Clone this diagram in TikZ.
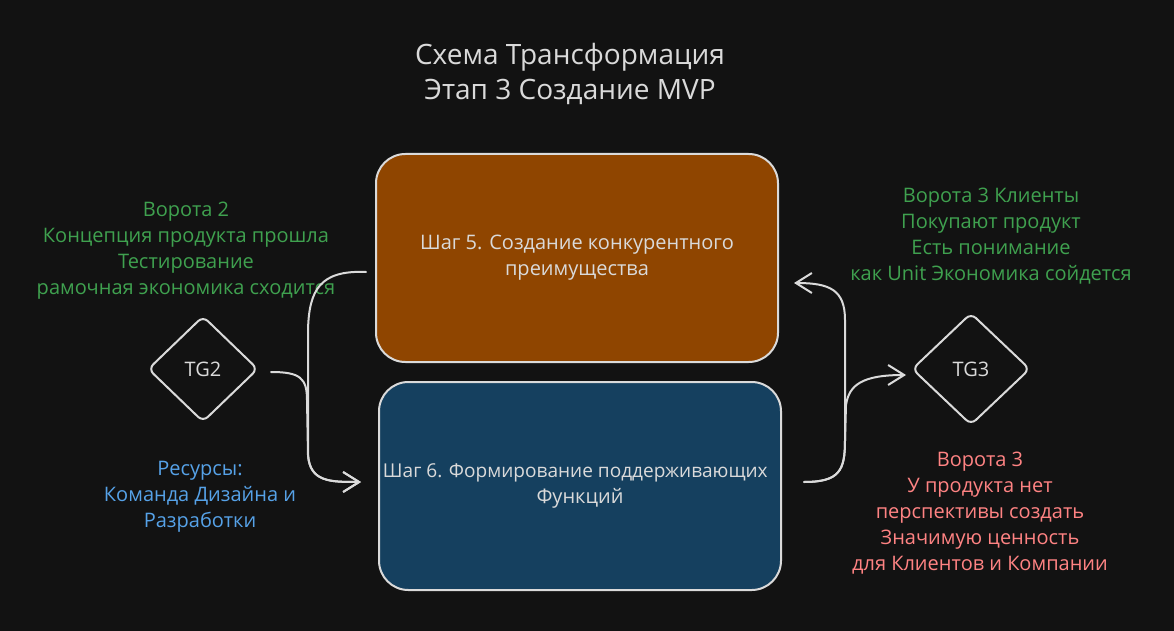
\documentclass[tikz,border=0pt]{standalone}
\usepackage{fontspec}
\setmainfont{Open Sans}
\usepackage{xcolor}
\usetikzlibrary{shapes.geometric, arrows.meta, calc}

\definecolor{bgcol}{HTML}{121212}
\definecolor{strokecol}{HTML}{DADADA}
\definecolor{gatecol}{HTML}{3FA14F}
\definecolor{failcol}{HTML}{FF8383}
\definecolor{rescol}{HTML}{56A2E8}
\definecolor{stepfive}{HTML}{8F4500}
\definecolor{stepsix}{HTML}{15405F}

\tikzset{
  steptext/.style={font=\fontsize{15}{19.5}\selectfont, align=center, text=strokecol, inner sep=0.75pt},
  stepbox/.style={draw=strokecol, line width=1.5pt, rounded corners=22pt, minimum width=301.5pt, minimum height=156pt, steptext},
  gatebox/.style={diamond, draw=strokecol, line width=1.5pt, rounded corners=5pt, inner sep=0pt, steptext},
  flow/.style={draw=strokecol, line width=1.5pt, line cap=round, -{Straight Barb[length=12pt,width=15pt,line width=1.5pt]}}
}

\begin{document}
\begin{tikzpicture}[x=0.75pt,y=0.75pt,yscale=-1,xscale=1]
        \fill[bgcol] (0,0) rectangle (1174,631);

        %Shape: Rectangle [id:stepfive]
        \node[stepbox, fill=stepfive] (step5) at (577,258) {Шаг 5. Создание конкурентного\\преимущества};
        %Shape: Rectangle [id:stepsix]
        \node[stepbox, fill=stepsix] (step6) at (580,486) {\hspace*{-7pt}{\fontsize{14.3}{19.5}\selectfont Шаг 6. Формирование поддерживающих}\\Функций};

        %Shape: Diamond [id:tg2]
        \node[gatebox, minimum width=82.5pt, minimum height=79.5pt] (tg2) at (203,369) {TG2};
        %Shape: Diamond [id:tg3]
        \node[gatebox, minimum width=88.5pt, minimum height=84pt] (tg3) at (971,369) {TG3};

        % Text Node
        \node[steptext, font=\fontsize{21}{26.25}\selectfont] (title) at (570,74) {Схема Трансформация\\Этап 3 Создание MVP};
        % Text Node
        \node[steptext, text=gatecol] (gate2) at (186,251) {Ворота 2\\Концепция продукта прошла\\Тестирование\\рамочная экономика сходится};
        % Text Node
        \node[steptext, text=gatecol] (gate3ok) at (991,236) {Ворота 3 Клиенты\\Покупают продукт\\Есть понимание\\как Unit Экономика сойдется};
        % Text Node
        \node[steptext, text=failcol] (gate3no) at (980,513) {Ворота 3\\У продукта нет\\перспективы создать\\Значимую ценность\\для Клиентов и Компании};
        % Text Node
        \node[steptext, text=rescol] (res) at (200,497) {Ресурсы:\\Команда Дизайна и\\Разработки};

        %Arrows into step 6
        \draw[flow] ($(tg2.east)+(12,3)$) .. controls (300,372) and (307,378) .. (307,400) -- (308,455) .. controls (310,482) and (330,482) .. ($(step6.west)+(-17,-4)$);
        \draw[flow] ($(step5.west)+(-9,14)$) .. controls (320,270) and (309,290) .. (308,330) -- (308,455) .. controls (310,482) and (330,482) .. ($(step6.west)+(-17,-4)$);

        %Arrows out of step 6
        \draw[flow] ($(step6.east)+(22,-4)$) .. controls (840,482) and (845,470) .. (845,440) -- (845,320) .. controls (845,290) and (830,283) .. ($(step5.east)+(15,25)$);
        \draw[flow] ($(step6.east)+(22,-4)$) .. controls (840,482) and (845,470) .. (845,440) -- (846,405) .. controls (849,385) and (862,375) .. ($(tg3.west)+(-5,6)$);
\end{tikzpicture}
\end{document}
